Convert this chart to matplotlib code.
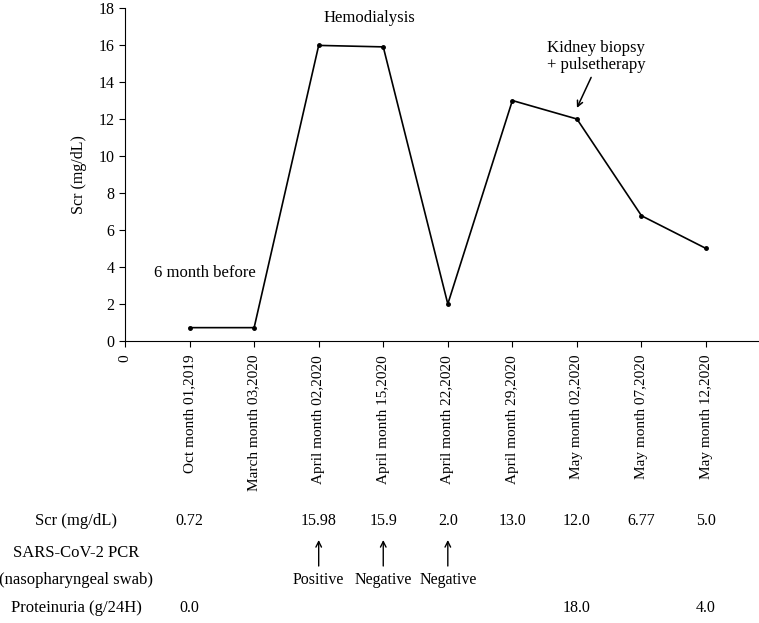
import matplotlib
matplotlib.use("Agg")
import matplotlib.pyplot as plt
import matplotlib.transforms as mtransforms

plt.rcParams['font.family'] = ['Liberation Serif', 'DejaVu Serif']

dates = ['Oct month 01,2019', 'March month 03,2020', 'April month 02,2020',
         'April month 15,2020', 'April month 22,2020', 'April month 29,2020',
         'May month 02,2020', 'May month 07,2020', 'May month 12,2020']
scr = [0.72, 0.72, 15.98, 15.9, 2.0, 13.0, 12.0, 6.77, 5.0]
scr_labels = ['0.72', '', '15.98', '15.9', '2.0', '13.0', '12.0', '6.77', '5.0']
pcr_labels = ['', '', 'Positive', 'Negative', 'Negative', '', '', '', '']
prot_labels = ['0.0', '', '', '', '', '', '18.0', '', '4.0']

x = list(range(1, len(dates) + 1))

fig = plt.figure(figsize=(7.59, 6.23), dpi=100)
ax = fig.add_axes([0.1647, 0.4527, 0.8353, 0.5344])

ax.plot(x, scr, color='black', lw=1.2, marker='o', ms=2.5)

ax.set_xlim(0, 9.82)
ax.set_ylim(0, 18)
ax.set_yticks(range(0, 19, 2))
ax.set_xticks([0] + x)
ax.set_xticklabels(['0'] + dates, rotation=90, fontsize=11)
ax.tick_params(axis='y', labelsize=11.5, length=4, direction='out')
ax.tick_params(axis='x', length=4, direction='out', pad=6)
ax.spines['top'].set_visible(False)
ax.spines['right'].set_visible(False)
ax.set_ylabel('Scr (mg/dL)', fontsize=11.5, labelpad=8)

ax.text(3.78, 17.45, 'Hemodialysis', fontsize=12, ha='center', va='center')
ax.text(1.24, 3.7, '6 month before', fontsize=12, ha='center', va='center')
ax.text(7.3, 15.4, 'Kidney biopsy\n+ pulsetherapy', fontsize=12, ha='center',
        va='center', linespacing=1.1)
ax.annotate('', xy=(7.0, 12.6), xytext=(7.22, 14.25),
            arrowprops=dict(arrowstyle='->', color='black', lw=1.1,
                            shrinkA=0, shrinkB=0))

tr = mtransforms.blended_transform_factory(ax.transData, fig.transFigure)

row_scr = 1 - 521 / 623
row_pcr_arrow_top = 1 - 540 / 623
row_pcr_arrow_bot = 1 - 566 / 623
row_pcr = 1 - 580 / 623
row_prot = 1 - 608 / 623
left_x = 76 / 759

fig.text(left_x, row_scr, 'Scr (mg/dL)', fontsize=12, ha='center', va='center')
fig.text(left_x, 1 - 553 / 623, 'SARS-CoV-2 PCR', fontsize=12, ha='center', va='center')
fig.text(left_x, row_pcr, '(nasopharyngeal swab)', fontsize=12, ha='center', va='center')
fig.text(left_x, row_prot, 'Proteinuria (g/24H)', fontsize=12, ha='center', va='center')

for xi, s, p, q in zip(x, scr_labels, pcr_labels, prot_labels):
    if s:
        ax.text(xi, row_scr, s, transform=tr, fontsize=11.5, ha='center', va='center')
    if p:
        ax.annotate('', xy=(xi, row_pcr_arrow_top), xytext=(xi, row_pcr_arrow_bot),
                    xycoords=tr, textcoords=tr,
                    arrowprops=dict(arrowstyle='->', color='black', lw=1.0,
                                    shrinkA=0, shrinkB=0))
        ax.text(xi, row_pcr, p, transform=tr, fontsize=11.5, ha='center', va='center')
    if q:
        ax.text(xi, row_prot, q, transform=tr, fontsize=11.5, ha='center', va='center')

fig.savefig('out.png', dpi=100)
